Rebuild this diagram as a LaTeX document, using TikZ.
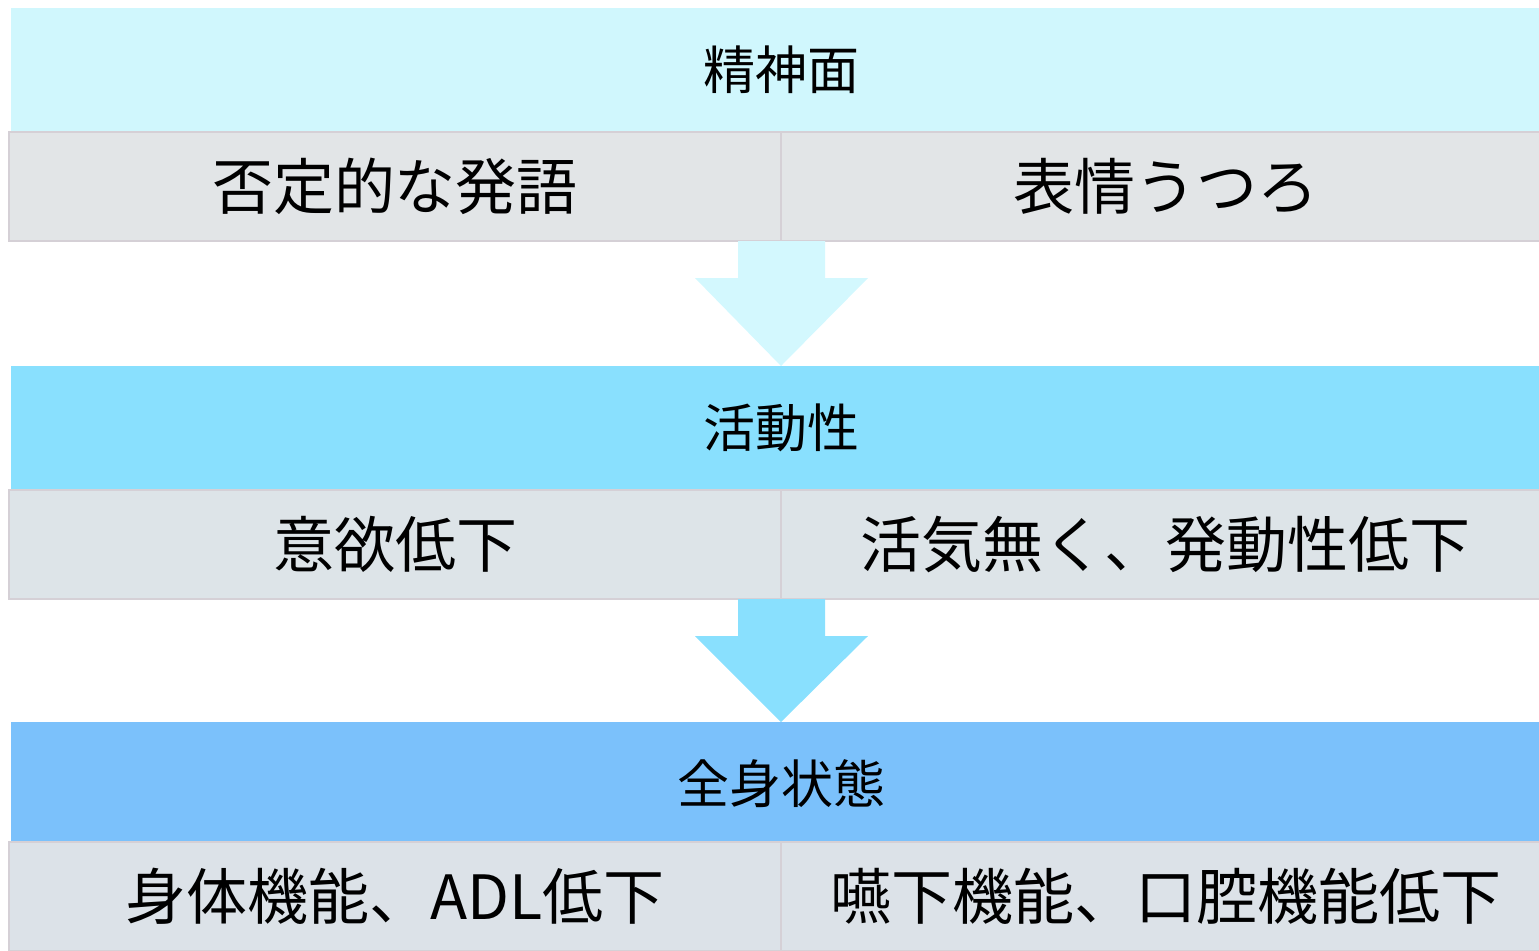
\documentclass[tikz,border=0pt]{standalone}
\usepackage{fontspec}
\setmainfont{Noto Sans CJK JP}
\definecolor{hdrA}{HTML}{D0F7FD}
\definecolor{arrA}{HTML}{D3F8FE}
\definecolor{hdrB}{HTML}{89E0FE}
\definecolor{hdrC}{HTML}{7BC1FB}
\definecolor{cellA}{HTML}{E2E5E7}
\definecolor{cellB}{HTML}{DDE4E8}
\definecolor{cellC}{HTML}{DCE2E8}
\definecolor{cellline}{HTML}{D5D0D6}
\begin{document}
\begin{tikzpicture}[x={(0.5pt,0pt)},y={(0pt,-0.5pt)},
  header/.style={anchor=north west,inner sep=0pt,outer sep=0pt,minimum width=770pt,minimum height=62pt,
    font=\fontsize{26}{30}\selectfont,text=black},
  cell/.style={anchor=north west,inner sep=0pt,outer sep=0pt,minimum height=54.5pt,draw=cellline,line width=1pt,
    font=\fontsize{30.5}{36}\selectfont,text=black},
  leftcell/.style={cell,minimum width=386pt},
  rightcell/.style={cell,minimum width=389pt}]
\useasboundingbox (0,0) rectangle (1539,950);
\clip (0,0) rectangle (1539,950);
% level 1
\node[header,fill=hdrA] (h1) at (11,8) {精神面};
\node[leftcell,fill=cellA] (c1l) at (9,132) {否定的な発語};
\node[rightcell,fill=cellA] (c1r) at (781,132) {\hspace*{-4.5pt}表情うつろ};
% arrow 1
\fill[arrA] (738,241) -- (825,241) -- (825,278) -- (868,278) -- (781,366) -- (695,278) -- (738,278) -- cycle;
% level 2
\node[header,fill=hdrB] (h2) at (11,366) {活動性};
\node[leftcell,fill=cellB] (c2l) at (9,490) {意欲低下};
\node[rightcell,fill=cellB] (c2r) at (781,490) {\hspace*{-4.5pt}活気無く、発動性低下};
% arrow 2
\fill[hdrB] (738,599) -- (825,599) -- (825,636) -- (868,636) -- (781,722) -- (695,636) -- (738,636) -- cycle;
% level 3
\node[header,fill=hdrC] (h3) at (11,722) {全身状態};
\node[leftcell,fill=cellC] (c3l) at (9,842) {身体機能、ADL低下};
\node[rightcell,fill=cellC] (c3r) at (781,842) {\hspace*{-4.5pt}嚥下機能、口腔機能低下};
\end{tikzpicture}
\end{document}
